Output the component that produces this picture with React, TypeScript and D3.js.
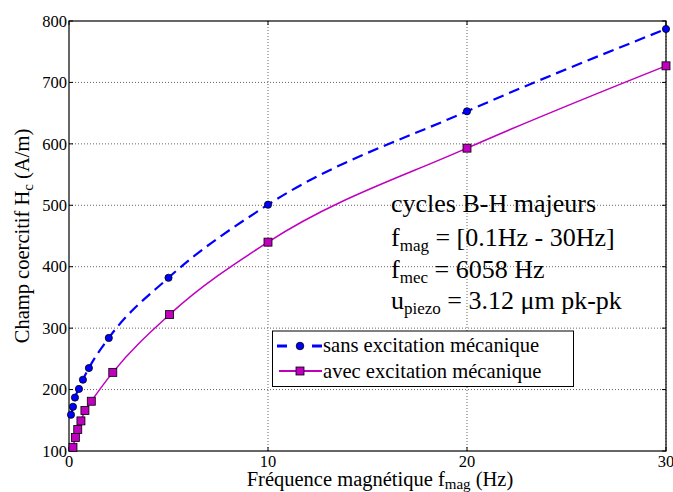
import React from 'react';
import * as d3 from 'd3';

const freqSans = [0.1, 0.2, 0.3, 0.5, 0.7, 1, 2, 5, 10, 20, 30];
const hcSans = [159, 172, 187, 201, 216, 235, 284, 382, 501, 653, 787];
const freqAvec = [0.2, 0.32, 0.44, 0.6, 0.8, 1.12, 2.2, 5.05, 10, 20, 30];
const hcAvec = [106, 122, 135, 149, 166, 181, 228, 322, 440, 593, 727];
const xTicks = [0, 10, 20, 30];
const yTicks = [100, 200, 300, 400, 500, 600, 700, 800];
const legendLabels = ['sans excitation mécanique', 'avec excitation mécanique'];

const W = 673, H = 492;
const L = 69, R = 666, T = 21, B = 451;
const FONT = "'Liberation Serif', 'Times New Roman', Times, serif";

export default function App() {
  const x = d3.scaleLinear().domain([0, 30]).range([L, R]);
  const y = d3.scaleLinear().domain([100, 800]).range([B, T]);
  const lineGen = d3.line<[number, number]>().x(d => x(d[0])).y(d => y(d[1])).curve(d3.curveMonotoneX);
  const sans: [number, number][] = freqSans.map((f, i) => [f, hcSans[i]]);
  const avec: [number, number][] = freqAvec.map((f, i) => [f, hcAvec[i]]);
  const blue = '#0000FF', mag = '#BF00BF';
  const grid = '#666';
  const ts = { fontFamily: FONT };
  return (
    <svg width={W} height={H} style={{ position: 'absolute', left: 0, top: 0, background: '#fff', fontFamily: FONT }}>
      <rect x={0} y={0} width={W} height={H} fill="#fff" />
      {yTicks.slice(1, -1).map(t => (
        <line key={'gy' + t} x1={L} x2={R} y1={y(t)} y2={y(t)} stroke={grid} strokeWidth={1} strokeDasharray="1,2" />
      ))}
      {xTicks.slice(1).map(t => (
        <line key={'gx' + t} x1={x(t)} x2={x(t)} y1={T} y2={B} stroke={grid} strokeWidth={1} strokeDasharray="1,2" />
      ))}
      <rect x={L} y={T} width={R - L} height={B - T} fill="none" stroke="#000" strokeWidth={1.2} />
      {yTicks.map(t => (
        <g key={'ty' + t}>
          <line x1={L} x2={L + 4} y1={y(t)} y2={y(t)} stroke="#000" />
          <line x1={R} x2={R - 4} y1={y(t)} y2={y(t)} stroke="#000" />
          <text style={ts} x={L - 2} y={y(t)} dy="0.35em" textAnchor="end" fontSize={16.5} fill="#000">{t}</text>
        </g>
      ))}
      {xTicks.map(t => (
        <g key={'tx' + t}>
          <line x1={x(t)} x2={x(t)} y1={B} y2={B - 4} stroke="#000" />
          <line x1={x(t)} x2={x(t)} y1={T} y2={T + 4} stroke="#000" />
          <text style={ts} x={x(t)} y={B + 16} textAnchor="middle" fontSize={16.5} fill="#000">{t}</text>
        </g>
      ))}
      <path d={lineGen(sans) || ''} fill="none" stroke={blue} strokeWidth={2.2} strokeDasharray="11,6" />
      <path d={lineGen(avec) || ''} fill="none" stroke={mag} strokeWidth={1.5} />
      {sans.map((d, i) => (
        <circle key={'c' + i} cx={x(d[0])} cy={y(d[1])} r={3.6} fill={blue} stroke="#000" strokeWidth={0.8} />
      ))}
      {avec.map((d, i) => (
        <rect key={'s' + i} x={x(d[0]) - 4} y={y(d[1]) - 4} width={8} height={8} fill={mag} stroke="#000" strokeWidth={0.8} />
      ))}
      <g fontSize={26} fill="#000">
        <text style={ts} x={391} y={212}>cycles B-H majeurs</text>
        <text style={ts} x={391} y={246}>f<tspan fontSize={17} dy={5}>mag</tspan><tspan dy={-5}> = [0.1Hz - 30Hz]</tspan></text>
        <text style={ts} x={391} y={278}>f<tspan fontSize={17} dy={5}>mec</tspan><tspan dy={-5}> = 6058 Hz</tspan></text>
        <text style={ts} x={391} y={309}>u<tspan fontSize={17} dy={5}>piezo</tspan><tspan dy={-5}> = 3.12 μm pk-pk</tspan></text>
      </g>
      <g>
        <rect x={272.5} y={331} width={301} height={55.5} fill="#fff" stroke="#000" strokeWidth={1} />
        <line x1={277} x2={322} y1={346} y2={346} stroke={blue} strokeWidth={2.8} strokeDasharray="10,25" />
        <circle cx={300} cy={346} r={3.8} fill={blue} stroke="#000" strokeWidth={0.8} />
        <text style={ts} x={323} y={352} fontSize={20.6}>{legendLabels[0]}</text>
        <line x1={279} x2={322} y1={371} y2={371} stroke={mag} strokeWidth={1.8} />
        <rect x={296} y={367} width={8} height={8} fill={mag} stroke="#000" strokeWidth={0.8} />
        <text style={ts} x={323} y={378} fontSize={20.6}>{legendLabels[1]}</text>
      </g>
      <text style={ts} x={380} y={486} textAnchor="middle" fontSize={20.5}>
        Fréquence magnétique f<tspan fontSize={15} dy={3}>mag</tspan><tspan dy={-3}> (Hz)</tspan>
      </text>
      <text style={ts} transform={`translate(29, ${236}) rotate(-90)`} textAnchor="middle" fontSize={20.5}>
        Champ coercitif H<tspan fontSize={15} dy={4}>c</tspan><tspan dy={-4}> (A/m)</tspan>
      </text>
    </svg>
  );
}
